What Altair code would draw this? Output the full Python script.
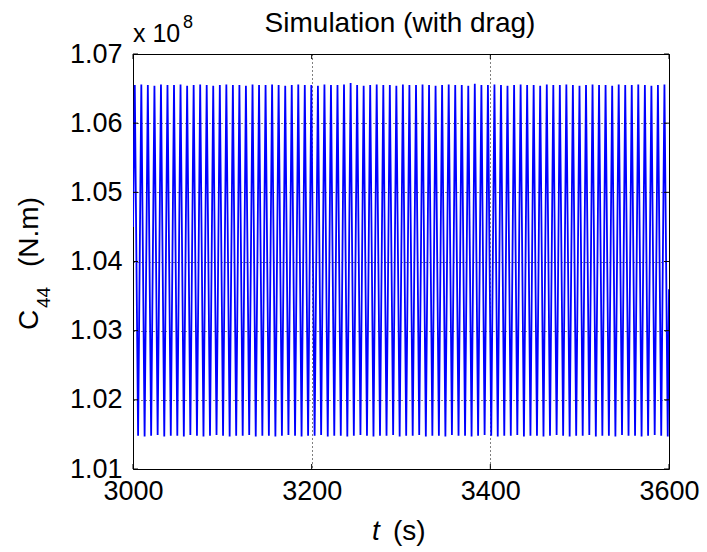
import altair as alt
import pandas as pd

# ---- data (values in units of 1e8 N.m) ----
peak_t = [3002.0, 3009.3, 3016.6, 3024.0, 3031.3, 3038.6, 3045.9, 3053.2, 3060.6, 3067.9,
          3075.2, 3082.5, 3089.8, 3097.2, 3104.5, 3111.8, 3119.1, 3126.4, 3133.8, 3141.1,
          3148.4, 3155.7, 3163.0, 3170.4, 3177.7, 3185.0, 3192.3, 3199.6, 3207.0, 3214.3,
          3221.6, 3228.9, 3236.2, 3243.6, 3250.9, 3258.2, 3265.5, 3272.8, 3280.2, 3287.5,
          3294.8, 3302.1, 3309.4, 3316.8, 3324.1, 3331.4, 3338.7, 3346.0, 3353.4, 3360.7,
          3368.0, 3375.3, 3382.6, 3390.0, 3397.3, 3404.6, 3411.9, 3419.2, 3426.6, 3433.9,
          3441.2, 3448.5, 3455.8, 3463.2, 3470.5, 3477.8, 3485.1, 3492.4, 3499.8, 3507.1,
          3514.4, 3521.7, 3529.0, 3536.4, 3543.7, 3551.0, 3558.3, 3565.6, 3573.0, 3580.3,
          3587.6, 3594.9]
peak_v = [1.0655, 1.0656, 1.0655, 1.0654, 1.0656, 1.0655, 1.0655, 1.0656, 1.0654, 1.0655,
          1.0656, 1.0655, 1.0654, 1.0655, 1.0656, 1.0655, 1.0655, 1.0654, 1.0656, 1.0655,
          1.0655, 1.0656, 1.0655, 1.0654, 1.0655, 1.0656, 1.0655, 1.0655, 1.0654, 1.0656,
          1.0655, 1.0655, 1.0656, 1.0658, 1.0655, 1.0654, 1.0655, 1.0656, 1.0655, 1.0655,
          1.0654, 1.0656, 1.0655, 1.0655, 1.0656, 1.0655, 1.0654, 1.0655, 1.0656, 1.0655,
          1.0655, 1.0654, 1.0657, 1.0655, 1.0655, 1.0656, 1.0655, 1.0654, 1.0655, 1.0656,
          1.0655, 1.0655, 1.0654, 1.0656, 1.0655, 1.0655, 1.0656, 1.0655, 1.0654, 1.0655,
          1.0656, 1.0655, 1.0655, 1.0654, 1.0656, 1.0655, 1.0655, 1.0656, 1.0655, 1.0654,
          1.0655, 1.0656]
trough_t = [3005.7, 3013.0, 3020.3, 3027.6, 3035.0, 3042.3, 3049.6, 3056.9, 3064.2, 3071.6,
            3078.9, 3086.2, 3093.5, 3100.8, 3108.2, 3115.5, 3122.8, 3130.1, 3137.4, 3144.8,
            3152.1, 3159.4, 3166.7, 3174.0, 3181.4, 3188.7, 3196.0, 3203.3, 3210.6, 3218.0,
            3225.3, 3232.6, 3239.9, 3247.2, 3254.6, 3261.9, 3269.2, 3276.5, 3283.8, 3291.2,
            3298.5, 3305.8, 3313.1, 3320.4, 3327.8, 3335.1, 3342.4, 3349.7, 3357.0, 3364.4,
            3371.7, 3379.0, 3386.3, 3393.6, 3401.0, 3408.3, 3415.6, 3422.9, 3430.2, 3437.6,
            3444.9, 3452.2, 3459.5, 3466.8, 3474.2, 3481.5, 3488.8, 3496.1, 3503.4, 3510.8,
            3518.1, 3525.4, 3532.7, 3540.0, 3547.4, 3554.7, 3562.0, 3569.3, 3576.6, 3584.0,
            3591.3, 3598.6]
trough_v = [1.0148, 1.0147, 1.0148, 1.0149, 1.0147, 1.0148, 1.0148, 1.0147, 1.0149, 1.0148,
            1.0147, 1.0148, 1.0149, 1.0148, 1.0147, 1.0148, 1.0148, 1.0149, 1.0147, 1.0148,
            1.0148, 1.0147, 1.0148, 1.0149, 1.0148, 1.0147, 1.0148, 1.0148, 1.0149, 1.0147,
            1.0148, 1.0148, 1.0147, 1.0148, 1.0149, 1.0148, 1.0147, 1.0148, 1.0148, 1.0149,
            1.0147, 1.0148, 1.0148, 1.0149, 1.0147, 1.0148, 1.0148, 1.0147, 1.0149, 1.0148,
            1.0148, 1.0147, 1.0148, 1.0149, 1.0148, 1.0147, 1.0148, 1.0148, 1.0149, 1.0147,
            1.0148, 1.0148, 1.0147, 1.0148, 1.0149, 1.0148, 1.0147, 1.0148, 1.0148, 1.0149,
            1.0147, 1.0148, 1.0148, 1.0147, 1.0149, 1.0148, 1.0148, 1.0147, 1.0148, 1.0149,
            1.0148, 1.0147]
start_t, start_v = [3000.0], [1.0450]
end_t, end_v = [3600.0], [1.0360]

x_ticks = [3000, 3200, 3400, 3600]
y_ticks = [1.01, 1.02, 1.03, 1.04, 1.05, 1.06, 1.07]

FONT = "Liberation Sans"
W, H = 536, 415

df = pd.DataFrame({
    "t": start_t + peak_t + trough_t + end_t,
    "v": start_v + peak_v + trough_v + end_v,
}).sort_values("t").reset_index(drop=True)

xscale = alt.Scale(domain=[3000, 3600], nice=False, zero=False)
yscale = alt.Scale(domain=[1.01, 1.07], nice=False, zero=False)

xaxis = alt.Axis(values=x_ticks, format="d", title=None, grid=True, gridDash=[1, 3],
                 gridColor="black", gridOpacity=1, tickSize=0, domain=False,
                 labelFont=FONT, labelFontSize=27, labelColor="black", labelPadding=9,
                 labelFlush=False)
yaxis = alt.Axis(values=y_ticks, format=".2f", title=None, grid=True, gridDash=[1, 3],
                 gridColor="black", gridOpacity=1, tickSize=0, domain=False,
                 labelFont=FONT, labelFontSize=27, labelColor="black", labelPadding=11,
                 labelFlush=False)

line = alt.Chart(df).mark_line(color="#0000ff", strokeWidth=1.8, clip=True).encode(
    x=alt.X("t:Q", scale=xscale, axis=xaxis),
    y=alt.Y("v:Q", scale=yscale, axis=yaxis),
    order="t:Q",
)

xt = pd.DataFrame({"t": x_ticks})
yt = pd.DataFrame({"v": y_ticks})
tick_b = alt.Chart(xt).mark_rule(color="black", strokeWidth=1).encode(
    x=alt.X("t:Q", scale=xscale), y=alt.value(H), y2=alt.value(H - 5))
tick_t = alt.Chart(xt).mark_rule(color="black", strokeWidth=1).encode(
    x=alt.X("t:Q", scale=xscale), y=alt.value(0), y2=alt.value(5))
tick_l = alt.Chart(yt).mark_rule(color="black", strokeWidth=1).encode(
    y=alt.Y("v:Q", scale=yscale), x=alt.value(0), x2=alt.value(5))
tick_r = alt.Chart(yt).mark_rule(color="black", strokeWidth=1).encode(
    y=alt.Y("v:Q", scale=yscale), x=alt.value(W), x2=alt.value(W - 5))


def label(text, x, y, size, angle=0, style="normal", align="left"):
    kw = dict(text=text, font=FONT, fontSize=size, color="black", align=align,
              baseline="alphabetic", fontStyle=style)
    if angle:
        kw["angle"] = angle
    return alt.Chart(pd.DataFrame({"a": [0]})).mark_text(**kw).encode(
        x=alt.value(x), y=alt.value(y))


title = label("Simulation (with drag)", 267, -22, 28, align="center")
exp_base = label("x 10", 0, -12, 25)
exp_sup = label("8", 50, -26, 18)
yl_c = label("C", -95, 276, 28, angle=270)
yl_sub = label("44", -83, 254, 19, angle=270)
yl_unit = label("(N.m)", -95, 213, 28, angle=270)
xl_t = label("t", 239, 486, 28, style="italic")
xl_s = label("(s)", 260, 486, 28)

chart = alt.layer(
    line, tick_b, tick_t, tick_l, tick_r,
    title, exp_base, exp_sup, yl_c, yl_sub, yl_unit, xl_t, xl_s,
).properties(
    width=W, height=H,
    autosize=alt.AutoSizeParams(type="none"),
    padding={"left": 133, "top": 54, "right": 38, "bottom": 83},
    background="white",
).configure_view(stroke="black", strokeWidth=1)

chart.save("out.html", embed_options={"renderer": "svg", "actions": False})
